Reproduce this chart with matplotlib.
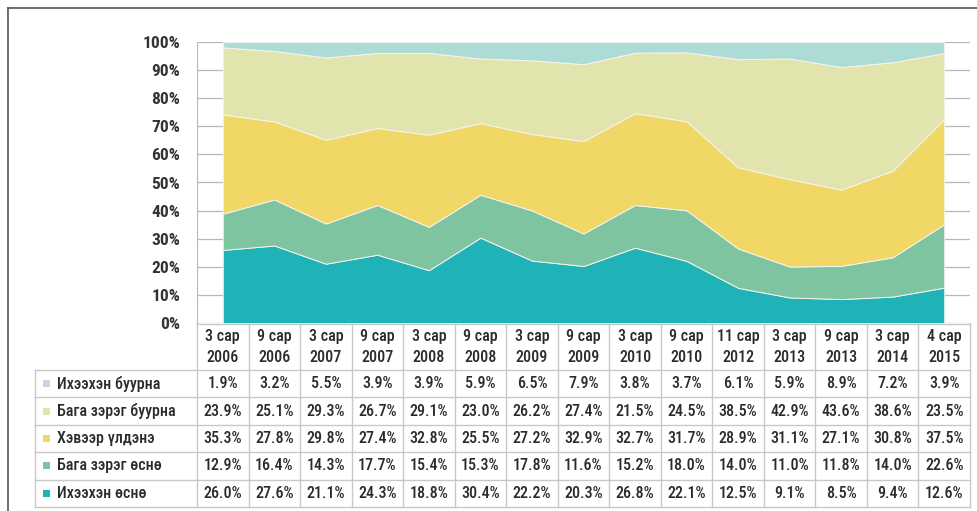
import numpy as np
import matplotlib.pyplot as plt
from matplotlib.lines import Line2D
from matplotlib.patches import Rectangle

plt.rcParams['font.family'] = ['Roboto Condensed', 'DejaVu Sans']

# --- data -------------------------------------------------------------
periods = ['3 сар\n2006', '9 сар\n2006', '3 сар\n2007', '9 сар\n2007', '3 сар\n2008',
           '9 сар\n2008', '3 сар\n2009', '9 сар\n2009', '3 сар\n2010', '9 сар\n2010',
           '11 сар\n2012', '3 сар\n2013', '9 сар\n2013', '3 сар\n2014', '4 сар\n2015']

names = ['Ихээхэн буурна', 'Бага зэрэг буурна', 'Хэвээр үлдэнэ', 'Бага зэрэг өснө', 'Ихээхэн өснө']

ih_buurna = [1.9, 3.2, 5.5, 3.9, 3.9, 5.9, 6.5, 7.9, 3.8, 3.7, 6.1, 5.9, 8.9, 7.2, 3.9]
baga_buurna = [23.9, 25.1, 29.3, 26.7, 29.1, 23.0, 26.2, 27.4, 21.5, 24.5, 38.5, 42.9, 43.6, 38.6, 23.5]
hevee = [35.3, 27.8, 29.8, 27.4, 32.8, 25.5, 27.2, 32.9, 32.7, 31.7, 28.9, 31.1, 27.1, 30.8, 37.5]
baga_osno = [12.9, 16.4, 14.3, 17.7, 15.4, 15.3, 17.8, 11.6, 15.2, 18.0, 14.0, 11.0, 11.8, 14.0, 22.6]
ih_osno = [26.0, 27.6, 21.1, 24.3, 18.8, 30.4, 22.2, 20.3, 26.8, 22.1, 12.5, 9.1, 8.5, 9.4, 12.6]

colors = ['#acdcd5', '#e2e4ae', '#f1d866', '#7fc4a1', '#1fb3b8']
box_colors = ['#c2d8ea', '#e2e4ae', '#f1d866', '#7fc4a1', '#1fb3b8']

rows = [ih_buurna, baga_buurna, hevee, baga_osno, ih_osno]
n = len(periods)
x = np.arange(n)

# stacked to 100%
vals = np.array(rows)
vals = vals / vals.sum(axis=0) * 100

W, H = 978, 511
fig = plt.figure(figsize=(W / 100, H / 100), dpi=100)

# plot region in pixels
px0, px1 = 197, 970
py0, py1 = 42, 323

ax = fig.add_axes([px0 / W, 1 - py1 / H, (px1 - px0) / W, (py1 - py0) / H])
ax.stackplot(x, vals[::-1], colors=colors[::-1], edgecolor='#f4f4ee', linewidth=0.7, zorder=2)
ax.set_xlim(-0.5, n - 0.5)
ax.set_ylim(0, 100)
ax.set_yticks(np.arange(0, 101, 10))
ax.set_yticklabels([f'{v}%' for v in range(0, 101, 10)], fontsize=12.5, fontweight='bold', color='#333333')
ax.tick_params(axis='y', length=0, pad=12)
ax.set_xticks([])
ax.grid(axis='y', color='#b8b8b8', linewidth=0.9, zorder=0)
for s in ['top', 'right', 'bottom']:
    ax.spines[s].set_visible(False)
ax.spines['left'].set_color('#b8b8b8')
ax.set_facecolor('none')

# --- table below -------------------------------------------------------
tax = fig.add_axes([0, 0, 1, 1], zorder=-1)
tax.set_xlim(0, W)
tax.set_ylim(H, 0)
tax.axis('off')

cw = (px1 - px0) / n
hdr_top, hdr_bot = 323, 370
rh = 27.4
lab_x0 = 35
grid_c = '#c8c8c8'
txt_c = '#2b2b2b'
fs = 11.5

for i, p in enumerate(periods):
    cx = px0 + (i + 0.5) * cw
    tax.text(cx, (hdr_top + hdr_bot) / 2 + 1, p, ha='center', va='center',
             fontsize=fs, fontweight='medium', color=txt_c, linespacing=1.5)

# horizontal lines
tax.plot([px0, px1], [hdr_top + 1, hdr_top + 1], color=grid_c, lw=1)
for r in range(len(names) + 1):
    yy = hdr_bot + r * rh
    tax.plot([lab_x0, px1], [yy, yy], color=grid_c, lw=1)
# vertical lines
for i in range(n + 1):
    xx = px0 + i * cw
    tax.plot([xx, xx], [hdr_top, hdr_bot + len(names) * rh], color=grid_c, lw=1)
tax.plot([lab_x0, lab_x0], [hdr_bot, hdr_bot + len(names) * rh], color=grid_c, lw=1)

for r, (nm, row) in enumerate(zip(names, rows)):
    cy = hdr_bot + (r + 0.5) * rh
    tax.add_patch(Rectangle((43, cy - 3.5), 7, 7, color=box_colors[r], lw=0))
    tax.text(57, cy, nm, ha='left', va='center', fontsize=fs, fontweight='medium', color=txt_c)
    for i, v in enumerate(row):
        tax.text(px0 + (i + 0.5) * cw, cy, f'{v:.1f}%', ha='center', va='center',
                 fontsize=fs, fontweight='medium', color=txt_c)

# frame around the figure
fig.add_artist(Line2D([8 / W, 1], [1 - 8 / H, 1 - 8 / H], color='#555555', lw=1.2))
fig.add_artist(Line2D([8 / W, 8 / W], [0, 1 - 8 / H], color='#555555', lw=1.2))

fig.savefig('out.png', dpi=100, facecolor='white')
